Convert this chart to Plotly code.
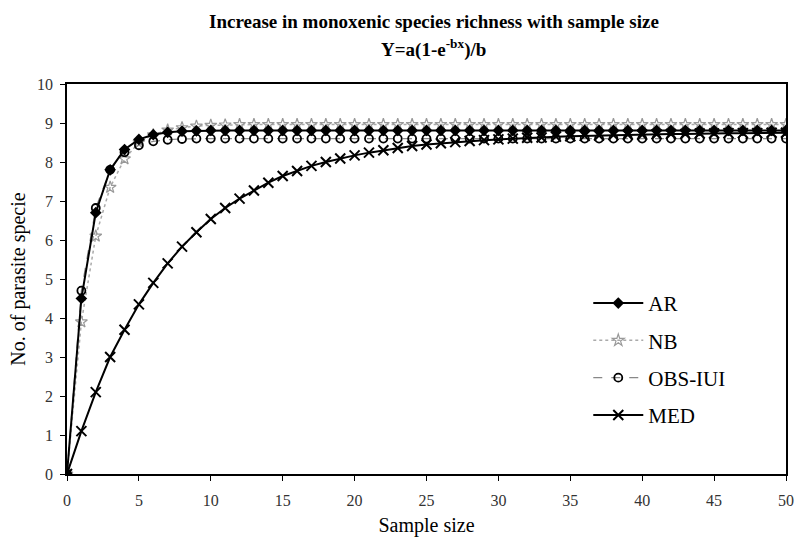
import plotly.graph_objects as go

sample_size = list(range(0, 51))

ar = [0, 4.5, 6.7, 7.8, 8.32, 8.58, 8.7, 8.76, 8.79, 8.8, 8.81] + [8.81] * 40
nb = [0, 3.9, 6.1, 7.35, 8.08, 8.5, 8.7, 8.82, 8.88, 8.92, 8.94, 8.95, 8.96] + [8.96] * 38
obs_iui = [0, 4.7, 6.82, 7.8, 8.25, 8.43, 8.53, 8.57, 8.59, 8.6] + [8.6] * 41
med = [0, 1.1, 2.1, 3.0, 3.7, 4.35, 4.9, 5.4, 5.83, 6.2, 6.54, 6.82, 7.06, 7.27, 7.47,
       7.64, 7.77, 7.9, 8.0, 8.09, 8.17, 8.24, 8.3, 8.36, 8.41, 8.45, 8.48, 8.51, 8.54,
       8.56, 8.58, 8.6, 8.62, 8.63, 8.65, 8.66, 8.67, 8.68, 8.69, 8.7, 8.7, 8.71, 8.72,
       8.72, 8.73, 8.73, 8.74, 8.74, 8.74, 8.75, 8.75]

x_ticks = list(range(0, 51, 5))
y_ticks = list(range(0, 11))

title_line1 = "Increase in monoxenic species richness with sample size"
title_line2 = "Y=a(1-e<sup>-bx</sup>)/b"

FONT = "Liberation Serif"

fig = go.Figure()
fig.add_trace(go.Scatter(
    x=sample_size, y=nb, name="NB", mode="lines+markers", legendgroup="b", legendrank=2,
    line=dict(color="#aaaaaa", width=1.5, dash="dot"),
    marker=dict(symbol="star-open", size=9, color="#999999", line=dict(width=1.2, color="#999999"))))
fig.add_trace(go.Scatter(
    x=sample_size, y=obs_iui, name="OBS-IUI", mode="lines+markers", legendgroup="c", legendrank=3,
    line=dict(color="#888888", width=1.2, dash="dash"),
    marker=dict(symbol="circle-open", size=8, color="black", line=dict(width=1.8, color="black"))))
fig.add_trace(go.Scatter(
    x=sample_size, y=ar, name="AR", mode="lines+markers", legendgroup="a", legendrank=1,
    line=dict(color="black", width=2),
    marker=dict(symbol="diamond", size=9, color="black")))
fig.add_trace(go.Scatter(
    x=sample_size, y=med, name="MED", mode="lines+markers", legendgroup="d", legendrank=4,
    line=dict(color="black", width=2),
    marker=dict(symbol="x-thin", size=10, color="black", line=dict(width=2, color="black"))))

fig.add_annotation(text="<b>" + title_line1 + "</b>", xref="paper", yref="paper",
                   x=0.51, y=1.0, yshift=63, xanchor="center", yanchor="middle", showarrow=False,
                   font=dict(family=FONT, size=19, color="black"))
fig.add_annotation(text="<b>" + title_line2 + "</b>", xref="paper", yref="paper",
                   x=0.51, y=1.0, yshift=36, xanchor="center", yanchor="middle", showarrow=False,
                   font=dict(family=FONT, size=19, color="black"))

fig.update_layout(
    width=804, height=543,
    margin=dict(l=67, r=10, t=84, b=66),
    plot_bgcolor="white", paper_bgcolor="white",
    font=dict(family=FONT, color="#222222", size=16),
    showlegend=True,
    legend=dict(
        x=0.725, y=0.49, xanchor="left", yanchor="top",
        font=dict(family=FONT, size=21, color="black"),
        bgcolor="rgba(0,0,0,0)", tracegroupgap=7, itemwidth=50,
        traceorder="grouped"),
    xaxis=dict(
        range=[0, 50], tickvals=x_ticks, showgrid=False, zeroline=False,
        showline=True, linecolor="black", linewidth=1.5, mirror=True,
        ticks="outside", ticklen=5, tickcolor="black", ticklabelstandoff=6,
        tickfont=dict(family=FONT, size=16, color="#333333"),
        title=dict(text="Sample size", font=dict(family=FONT, size=20, color="black"), standoff=10)),
    yaxis=dict(
        range=[0, 10], tickvals=y_ticks, showgrid=False, zeroline=False,
        showline=True, linecolor="black", linewidth=1.5, mirror=True,
        ticks="outside", ticklen=5, tickcolor="black", ticklabelstandoff=4,
        tickfont=dict(family=FONT, size=16, color="#333333"),
        title=dict(text="No. of parasite specie", font=dict(family=FONT, size=20, color="black"), standoff=6)),
)

fig.write_html("out.html")
